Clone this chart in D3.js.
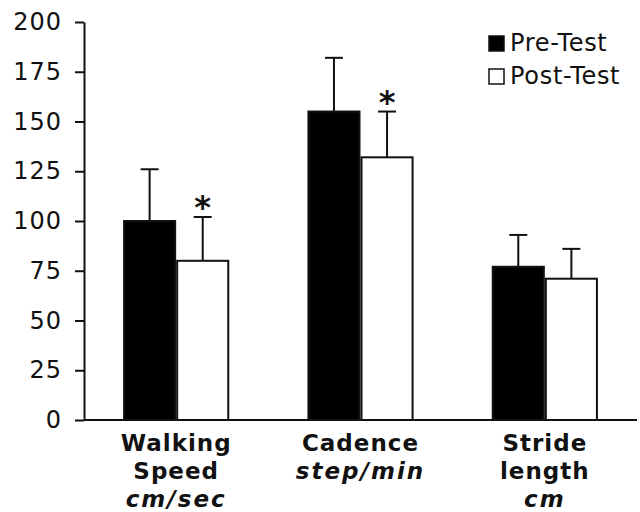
<!doctype html>
<html>
<head>
    <meta charset="utf-8">
    <title>Gait parameters</title>
    <script src="https://cdnjs.cloudflare.com/ajax/libs/d3/7.8.5/d3.min.js"></script>
    <style>
        body { margin: 0; background: #fff; }
        text { font-family: "DejaVu Sans", Verdana, sans-serif; fill: #111; }
    </style>
</head>
<body>
    <svg width="640" height="512"></svg>
    <script>
        // values
        var categories = ["Walking Speed", "Cadence", "Stride length"];
        var labelLines = [["Walking", "Speed"], ["Cadence"], ["Stride", "length"]];
        var units = ["cm/sec", "step/min", "cm"];
        var preTest = [100, 155, 77];
        var preSD = [26, 27, 16];
        var postTest = [80, 132, 71];
        var postSD = [22, 23, 15];
        var significant = [true, true, false];
        var yTicks = [0, 25, 50, 75, 100, 125, 150, 175, 200];
        var seriesNames = ["Pre-Test", "Post-Test"];

        var svg = d3.select("svg");
        var plotLeft = 84, plotRight = 637, plotTop = 22, plotBottom = 420;

        var x = d3.scaleBand().domain(categories).range([plotLeft, plotRight])
            .paddingInner(0.424).paddingOuter(0.212);
        var x1 = d3.scaleBand().domain(seriesNames).range([0, x.bandwidth()]);
        var y = d3.scaleLinear().domain([0, 200]).range([plotBottom, plotTop]);

        // y axis
        var yAxis = svg.append("g")
            .attr("transform", "translate(" + plotLeft + ",0)")
            .call(d3.axisLeft(y).tickValues(yTicks).tickSize(9).tickPadding(13).tickSizeOuter(0));
        yAxis.selectAll("path, line").attr("stroke", "#111").attr("stroke-width", 2);
        yAxis.selectAll("text")
            .style("font-size", "24px").style("letter-spacing", "1px")
            .style("font-family", "DejaVu Sans, Verdana, sans-serif").attr("fill", "#111");

        var data = categories.map(function (c, i) {
            return [
                { cat: c, s: "Pre-Test", v: preTest[i], e: preSD[i], fill: "#000", star: false },
                { cat: c, s: "Post-Test", v: postTest[i], e: postSD[i], fill: "#fff", star: significant[i] }
            ];
        });

        var groups = svg.selectAll(".grp")
            .data(data)
            .enter().append("g")
            .attr("class", "grp")
            .attr("transform", function (d) { return "translate(" + x(d[0].cat) + ",0)"; });

        var bars = groups.selectAll(".bar")
            .data(function (d) { return d; })
            .enter();

        // error bars (upper only)
        bars.append("line")
            .attr("x1", function (d) { return x1(d.s) + x1.bandwidth() / 2; })
            .attr("x2", function (d) { return x1(d.s) + x1.bandwidth() / 2; })
            .attr("y1", function (d) { return y(d.v); })
            .attr("y2", function (d) { return y(d.v + d.e); })
            .attr("stroke", "#111").attr("stroke-width", 2);
        bars.append("line")
            .attr("x1", function (d) { return x1(d.s) + x1.bandwidth() / 2 - 9; })
            .attr("x2", function (d) { return x1(d.s) + x1.bandwidth() / 2 + 9; })
            .attr("y1", function (d) { return y(d.v + d.e); })
            .attr("y2", function (d) { return y(d.v + d.e); })
            .attr("stroke", "#111").attr("stroke-width", 2);

        bars.append("rect")
            .attr("class", "bar")
            .attr("x", function (d) { return x1(d.s) + 1; })
            .attr("y", function (d) { return y(d.v); })
            .attr("width", x1.bandwidth() - 2)
            .attr("height", function (d) { return y(0) - y(d.v); })
            .attr("fill", function (d) { return d.fill; })
            .attr("stroke", "#111").attr("stroke-width", 2);

        bars.filter(function (d) { return d.star; })
            .append("text")
            .attr("x", function (d) { return x1(d.s) + x1.bandwidth() / 2; })
            .attr("y", function (d) { return y(d.v + d.e) + 1; })
            .attr("text-anchor", "middle")
            .style("font-size", "32px").style("font-weight", "bold")
            .text("*");

        // x axis line
        svg.append("line")
            .attr("x1", plotLeft).attr("x2", plotRight)
            .attr("y1", y(0)).attr("y2", y(0))
            .attr("stroke", "#111").attr("stroke-width", 2);

        // category labels
        categories.forEach(function (c, i) {
            var cx = x(c) + x.bandwidth() / 2;
            var t = svg.append("text")
                .attr("text-anchor", "middle")
                .attr("x", cx)
                .attr("y", 451)
                .style("font-size", "23px");
            labelLines[i].forEach(function (line, j) {
                t.append("tspan").attr("x", cx).attr("dy", j === 0 ? 0 : 28)
                    .style("font-weight", "bold").style("letter-spacing", "1px").text(line);
            });
            t.append("tspan").attr("x", cx).attr("dy", 28)
                .style("font-weight", "bold").style("font-style", "italic")
                .style("letter-spacing", "2px").text(units[i]);
        });

        // legend
        var legend = svg.selectAll(".legend")
            .data(seriesNames)
            .enter().append("g")
            .attr("class", "legend")
            .attr("transform", function (d, i) { return "translate(489," + (36 + i * 33) + ")"; });
        legend.append("rect")
            .attr("width", 15).attr("height", 15)
            .attr("fill", function (d, i) { return i === 0 ? "#000" : "#fff"; })
            .attr("stroke", "#111").attr("stroke-width", 1.5);
        legend.append("text")
            .attr("x", 21).attr("y", 15)
            .style("font-size", "24px").style("letter-spacing", "0.7px")
            .text(function (d) { return d; });
    </script>
</body>
</html>
